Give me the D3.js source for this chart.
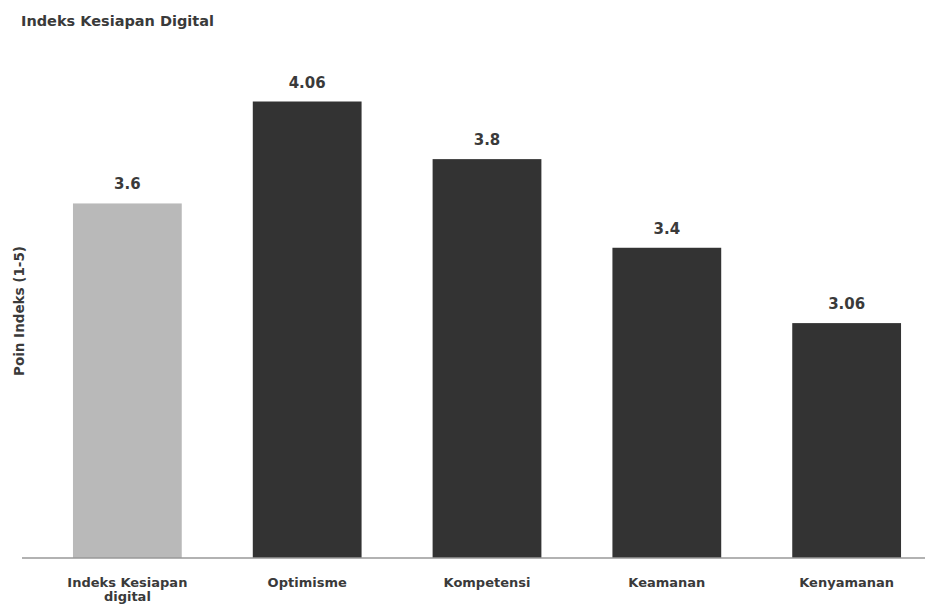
<!DOCTYPE html>
<html>
<head>
<meta charset="utf-8">
<script src="https://cdn.jsdelivr.net/npm/d3@7"></script>
<style>
  body { margin: 0; background: #fff; font-family: "DejaVu Sans", sans-serif; }
  text { font-weight: bold; fill: #3a3a3a; }
</style>
</head>
<body>
<script>
// data
const categories = ["Indeks Kesiapan digital", "Optimisme", "Kompetensi", "Keamanan", "Kenyamanan"]
const values = [3.6, 4.06, 3.8, 3.4, 3.06]
const labels = ["3.6", "4.06", "3.8", "3.4", "3.06"]
const barColors = ["#b9b9b9", "#333333", "#333333", "#333333", "#333333"]

const width = 925, height = 608

const svg = d3.select("body").append("svg")
    .attr("width", width)
    .attr("height", height)

// bars step 180px, first bar starts ~73
const x = d3.scaleBand()
    .domain(categories)
    .range([37, 937])
    .paddingInner(0.395)
    .paddingOuter(0.2)

const y = d3.scaleLinear()
    .domain([2, 4.5])
    .range([558, 4])

svg.append("text")
    .attr("x", 21)
    .attr("y", 26)
    .attr("font-size", 14.5)
    .text("Indeks Kesiapan Digital")

svg.append("text")
    .attr("transform", "translate(24,311) rotate(-90)")
    .attr("text-anchor", "middle")
    .attr("font-size", 13.5)
    .text("Poin Indeks (1-5)")

svg.selectAll("rect.bar")
    .data(values)
    .enter()
    .append("rect")
    .attr("class", "bar")
    .attr("x", (d, i) => x(categories[i]))
    .attr("width", x.bandwidth())
    .attr("y", d => y(d))
    .attr("height", d => y(2) - y(d))
    .attr("fill", (d, i) => barColors[i])

svg.selectAll("text.val")
    .data(values)
    .enter()
    .append("text")
    .attr("class", "val")
    .attr("x", (d, i) => x(categories[i]) + x.bandwidth() / 2)
    .attr("y", d => y(d) - 14)
    .attr("text-anchor", "middle")
    .attr("font-size", 15)
    .text((d, i) => labels[i])

// baseline
svg.append("line")
    .attr("x1", 22)
    .attr("x2", width)
    .attr("y1", y(2))
    .attr("y2", y(2))
    .attr("stroke", "#999")
    .attr("stroke-width", 1.5)

// category labels, wrapped on two lines when long
const catText = svg.selectAll("text.cat")
    .data(categories)
    .enter()
    .append("text")
    .attr("class", "cat")
    .attr("text-anchor", "middle")
    .attr("font-size", 13)
    .attr("y", 587)

catText.each(function(d) {
    const t = d3.select(this)
    const cx = x(d) + x.bandwidth() / 2
    const parts = d == "Indeks Kesiapan digital" ? ["Indeks Kesiapan", "digital"] : [d]
    parts.forEach((p, i) => {
        t.append("tspan").attr("x", cx).attr("dy", i == 0 ? 0 : 14).text(p)
    })
})
</script>
</body>
</html>
